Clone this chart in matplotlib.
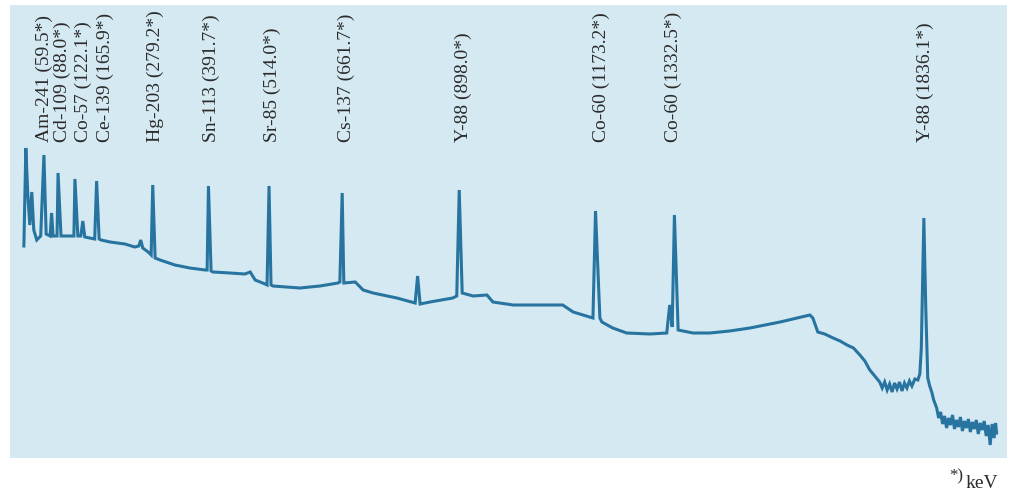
import matplotlib
matplotlib.use("Agg")
import matplotlib.pyplot as plt

# gamma spectrum: energy [keV], counts [arb. units]
energy = [19, 23, 27, 31, 35, 39, 45, 53, 59.5, 64, 72, 75, 78, 86, 88, 94,
          120, 122.1, 128, 134, 138, 142, 162, 165.9, 171, 175, 193, 223, 243,
          251, 255, 259, 270, 276, 279.2, 284, 294, 324, 354, 385, 389, 391.7,
          397, 401, 435, 465, 476, 486, 506, 510, 514.0, 518, 522, 576, 617,
          653, 657, 661.7, 665, 688, 704, 724, 772, 809, 814, 819, 839, 885,
          893, 898.0, 904, 926, 954, 966, 1007, 1107, 1128, 1168, 1173.2, 1182,
          1186, 1208, 1236, 1283, 1317, 1323, 1328, 1332.5, 1340, 1370, 1404,
          1444, 1485, 1515, 1546, 1580, 1606, 1612, 1622, 1636, 1653, 1667,
          1681, 1694, 1707, 1717, 1727, 1737, 1747, 1752, 1757, 1762, 1767,
          1772, 1777, 1782, 1787, 1792, 1797, 1802, 1807, 1812, 1818, 1824,
          1828, 1831, 1836.1, 1840, 1844, 1848, 1852, 1856, 1862, 1866, 1870,
          1874, 1878, 1882, 1886, 1890, 1894, 1898, 1902, 1906, 1910, 1914,
          1918, 1922, 1926, 1930, 1934, 1938, 1942, 1946, 1950, 1954, 1958,
          1962, 1966, 1970, 1974, 1978, 1981, 1983]
counts = [212, 310, 263, 233, 266, 228, 218, 222, 303, 224, 222, 245, 222, 222,
          285, 222, 222, 279, 222, 222, 237, 221, 219, 277, 219, 218, 216, 214,
          211, 212, 218, 210, 206, 203, 273, 200, 198, 193, 190, 188, 188, 272,
          187, 186, 185, 184, 186, 178, 174, 173, 272, 173, 172, 170, 172, 175,
          176, 265, 175, 176, 168, 165, 160, 155, 182, 154, 156, 160, 162, 268,
          165, 162, 163, 156, 153, 153, 146, 140, 247, 140, 136, 130, 125, 124,
          125, 153, 131, 243, 128, 125, 125, 127, 130, 133, 136, 140, 143, 140,
          126, 124, 120, 117, 113, 110, 103, 97, 88, 82, 76, 70, 76, 68, 74,
          66, 75, 69, 76, 67, 75, 70, 77, 72, 79, 78, 84, 110, 240, 150, 80, 72,
          66, 58, 50, 40, 46, 34, 42, 30, 40, 33, 43, 29, 38, 31, 41, 27, 37,
          30, 39, 26, 36, 29, 38, 24, 35, 28, 37, 22, 33, 13, 34, 20, 35, 25]

# peak labels
nuclides = ["Am-241", "Cd-109", "Co-57", "Ce-139", "Hg-203", "Sn-113", "Sr-85",
            "Cs-137", "Y-88", "Co-60", "Co-60", "Y-88"]
peak_kev = [59.5, 88.0, 122.1, 165.9, 279.2, 391.7, 514.0, 661.7, 898.0,
            1173.2, 1332.5, 1836.1]
label_shift = [0, 4, 8, 9, 3, 3, 3, 4, 4, 6, -1, 2]  # px, crowded labels

bg = "#d5e9f2"
line_col = "#2874a0"

fig = plt.figure(figsize=(10.13, 4.95), dpi=100)
ax = fig.add_axes([10 / 1013, 37 / 495, 997 / 1013, 453 / 495])
ax.set_facecolor(bg)
ax.plot(energy, counts, color=line_col, lw=2.2, solid_joinstyle="miter")
ax.set_xlim(-9, 2004)
ax.set_ylim(0, 453)
ax.set_xticks([])
ax.set_yticks([])
for s in ax.spines.values():
    s.set_visible(False)

for name, e, dx in zip(nuclides, peak_kev, label_shift):
    ax.annotate(f"{name} ({e:.1f}*)", xy=(e, 316), xytext=(dx * 0.72, 0),
                textcoords="offset points", rotation=90, ha="center",
                va="bottom", fontsize=14, family="Liberation Serif",
                color="#2b2b2b")

fig.text(963 / 1013, 1 - 476 / 495, "*)", fontsize=12, family="Liberation Serif",
         ha="right", va="center", color="#2b2b2b")
fig.text(966 / 1013, 1 - 484 / 495, "keV", fontsize=14, family="Liberation Serif",
         ha="left", va="center", color="#2b2b2b")

fig.savefig("out.png", dpi=100)
